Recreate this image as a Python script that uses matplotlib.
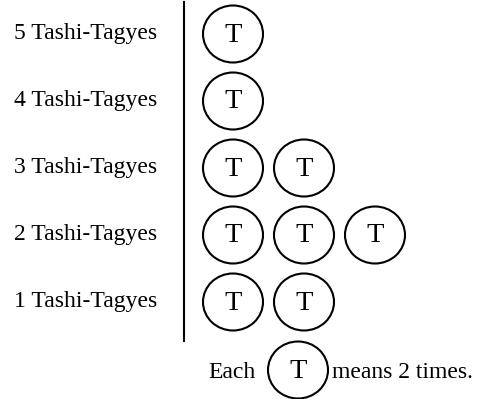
import matplotlib
matplotlib.use("Agg")
import matplotlib.pyplot as plt
from matplotlib.patches import Ellipse

# pictograph data
CATEGORIES = ["5 Tashi-Tagyes", "4 Tashi-Tagyes", "3 Tashi-Tagyes", "2 Tashi-Tagyes", "1 Tashi-Tagyes"]
SYMBOL_COUNTS = [1, 1, 2, 3, 2]
SYMBOL = "T"
KEY_VALUE = 2

# layout (in pixels, y going down)
W, H = 484, 399
ROW_TOP = 34
ROW_STEP = 67
COL_LEFT = 233
COL_STEP = 71
CIRCLE_W = 60
CIRCLE_H = 57
AXIS_X = 184
LABEL_RIGHT = 157
LABEL_SIZE = 17
SYMBOL_SIZE = 20.5

plt.rcParams["font.family"] = ["Liberation Serif", "DejaVu Serif"]


def draw_symbol(ax, x, y):
    ax.add_patch(Ellipse((x, y), CIRCLE_W, CIRCLE_H, fill=False, edgecolor="black", linewidth=1.5))
    ax.text(x, y + 7.5, SYMBOL, ha="center", va="baseline", fontsize=SYMBOL_SIZE)


def main():
    fig = plt.figure(figsize=(W / 100, H / 100), dpi=100)
    ax = fig.add_axes([0, 0, 1, 1])
    ax.set_xlim(0, W)
    ax.set_ylim(H, 0)
    ax.axis("off")

    for i, (label, count) in enumerate(zip(CATEGORIES, SYMBOL_COUNTS)):
        y = ROW_TOP + i * ROW_STEP
        ax.text(LABEL_RIGHT, y + 5, label, ha="right", va="baseline", fontsize=LABEL_SIZE)
        for j in range(count):
            draw_symbol(ax, COL_LEFT + j * COL_STEP, y)

    # divider line
    ax.plot([AXIS_X, AXIS_X], [2, 341], color="black", linewidth=1.5)

    # key
    key_y = 370
    key_x = 298
    ax.text(key_x - 42, key_y + 8, "Each", ha="right", va="baseline", fontsize=LABEL_SIZE)
    draw_symbol(ax, key_x, key_y)
    ax.text(key_x + 34, key_y + 8, f"means {KEY_VALUE} times.", ha="left", va="baseline", fontsize=LABEL_SIZE)

    fig.savefig("out.png", dpi=100)


if __name__ == "__main__":
    main()
